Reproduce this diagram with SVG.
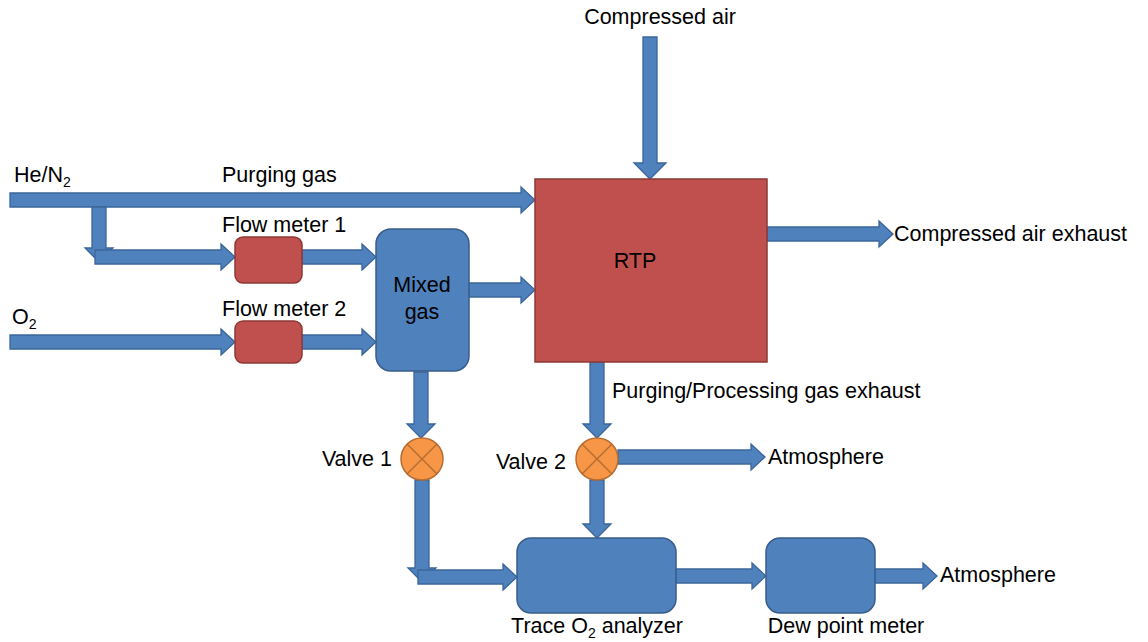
<svg xmlns="http://www.w3.org/2000/svg" width="1148" height="642" viewBox="0 0 1148 642">
<style>
.arr{fill:#4F81BD;stroke:#3A659A;stroke-width:1.3;stroke-linejoin:miter}
.red{fill:#C0504D;stroke:#8C3836;stroke-width:1.5}
.blue{fill:#4F81BD;stroke:#385D8A;stroke-width:1.5}
.valve{fill:#F79646;stroke:#B66D31;stroke-width:1.5}
.vx{stroke:#B66D31;stroke-width:1.5}
text{font-family:"Liberation Sans",Arial,sans-serif;font-size:21.5px;fill:#000}
.sub{font-size:14px}
</style>
<rect width="1148" height="642" fill="#fff"/>
<g id="connectors">
<polygon class="arr" points="10,193 521,193 521,187 535,200 521,213 521,207 10,207"/>
<polygon class="arr" points="92,207 106,207 106,248 113,248 99,262 85,248 92,248"/>
<polygon class="arr" points="95,250 221,250 221,244 235,257 221,270 221,264 95,264"/>
<polygon class="arr" points="302,250 362,250 362,244 376,257 362,270 362,264 302,264"/>
<polygon class="arr" points="10,335 221,335 221,329 235,342 221,355 221,349 10,349"/>
<polygon class="arr" points="302,335 362,335 362,329 376,342 362,355 362,349 302,349"/>
<polygon class="arr" points="469,283 521,283 521,277 535,290 521,303 521,297 469,297"/>
<polygon class="arr" points="643,37 657,37 657,163 666,163 650,179 634,163 643,163"/>
<polygon class="arr" points="767,227 879,227 879,221 893,234 879,247 879,241 767,241"/>
<polygon class="arr" points="414,372 428,372 428,424 435,424 421,438 407,424 414,424"/>
<polygon class="arr" points="590,362 604,362 604,424 611,424 597,438 583,424 590,424"/>
<polygon class="arr" points="618,450 751,450 751,444 765,457 751,470 751,464 618,464"/>
<polygon class="arr" points="590,480 604,480 604,524 611,524 597,538 583,524 590,524"/>
<polygon class="arr" points="415,480 429,480 429,568 436,568 422,582 408,568 415,568"/>
<polygon class="arr" points="418,570 503,570 503,564 517,577 503,590 503,584 418,584"/>
<polygon class="arr" points="676,569 752,569 752,563 766,576 752,589 752,583 676,583"/>
<polygon class="arr" points="875,569 923,569 923,563 937,576 923,589 923,583 875,583"/>
</g>
<g id="rtp">
<rect class="red" x="535" y="179" width="232" height="183"/>
<text x="635" y="268" text-anchor="middle">RTP</text>
</g>
<g id="flowmeter1">
<rect class="red" x="235" y="237" width="67" height="46" rx="8"/>
<text x="222" y="232">Flow meter 1</text>
</g>
<g id="flowmeter2">
<rect class="red" x="235" y="321" width="67" height="42" rx="8"/>
<text x="222" y="316">Flow meter 2</text>
</g>
<g id="mixedgas">
<rect class="blue" x="376" y="229" width="93" height="142" rx="15"/>
<text x="422" y="292" text-anchor="middle">Mixed</text>
<text x="422" y="319" text-anchor="middle">gas</text>
</g>
<g id="valve1">
<circle class="valve" cx="422" cy="459" r="21"/>
<line class="vx" x1="407" y1="444" x2="437" y2="474"/>
<line class="vx" x1="437" y1="444" x2="407" y2="474"/>
<text x="392" y="466" text-anchor="end">Valve 1</text>
</g>
<g id="valve2">
<circle class="valve" cx="597" cy="459" r="21"/>
<line class="vx" x1="582" y1="444" x2="612" y2="474"/>
<line class="vx" x1="612" y1="444" x2="582" y2="474"/>
<text x="566" y="469" text-anchor="end">Valve 2</text>
</g>
<g id="analyzer">
<rect class="blue" x="517" y="538" width="159" height="75" rx="14"/>
<text x="597" y="633" text-anchor="middle">Trace O<tspan class="sub" dy="5">2</tspan><tspan dy="-5"> analyzer</tspan></text>
</g>
<g id="dewpoint">
<rect class="blue" x="766" y="538" width="109" height="75" rx="14"/>
<text x="846" y="633" text-anchor="middle">Dew point meter</text>
</g>
<g id="labels">
<text x="660" y="24" text-anchor="middle">Compressed air</text>
<text x="14" y="182">He/N<tspan class="sub" dy="5">2</tspan></text>
<text x="222" y="182">Purging gas</text>
<text x="12" y="324">O<tspan class="sub" dy="5">2</tspan></text>
<text x="894" y="241">Compressed air exhaust</text>
<text x="612" y="398">Purging/Processing gas exhaust</text>
<text x="768" y="464">Atmosphere</text>
<text x="940" y="582">Atmosphere</text>
</g>
</svg>
